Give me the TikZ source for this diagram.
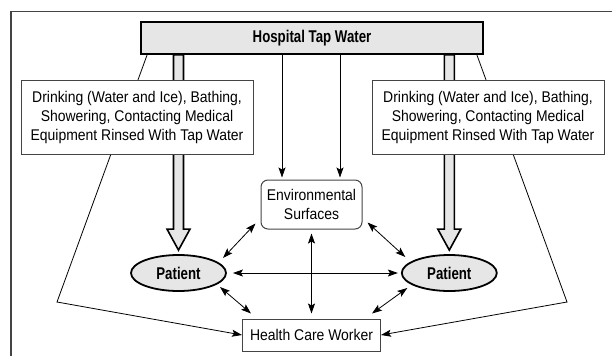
\documentclass[tikz,border=0pt]{standalone}
\usepackage{fontspec}
\setmainfont{Liberation Sans}[FakeStretch=0.9]
\newfontfamily\headfont{Liberation Sans}[FakeStretch=0.78]
\usepackage{xcolor}
\definecolor{boxFill}  {HTML}{E6E6E6}
\definecolor{lineGray} {HTML}{444444}
\usetikzlibrary{arrows.meta, positioning, calc, shapes.geometric, backgrounds}
\tikzset{
    frameline/.style={draw=lineGray, line width=1.2pt},
    sourcebox/.style={rectangle, draw, line width=1.8pt, fill=boxFill,
                      minimum width=342pt, minimum height=32pt, inner sep=0pt,
                      font=\headfont\bfseries\fontsize{17}{20}\selectfont},
    routebox/.style={rectangle, draw=lineGray, line width=1pt, fill=white,
                     minimum width=232pt, minimum height=74pt, inner sep=0pt,
                     align=center, font=\fontsize{15.5}{19}\selectfont},
    envbox/.style={rectangle, rounded corners=7pt, draw=lineGray, line width=1pt,
                   fill=white, minimum width=101pt, minimum height=49pt,
                   inner sep=0pt, align=center, font=\fontsize{15.5}{18.5}\selectfont},
    workerbox/.style={rectangle, draw=lineGray, line width=1pt, fill=white,
                      minimum width=138pt, minimum height=32pt, inner sep=0pt,
                      font=\fontsize{15.5}{19}\selectfont},
    patient/.style={ellipse, draw, line width=1.8pt, fill=boxFill,
                    minimum width=95pt, minimum height=36pt, inner sep=0pt,
                    font=\headfont\bfseries\fontsize{17}{20}\selectfont},
    edge/.style={-{Stealth[length=10pt, width=7pt, inset=2pt]}, line width=0.8pt},
    dedge/.style={{Stealth[length=10pt, width=7pt, inset=2pt]}-{Stealth[length=10pt, width=7pt, inset=2pt]},
                  line width=0.8pt},
    fatarrow/.style={draw, line width=1.6pt, fill=boxFill, line join=miter},
}
% hollow route arrow: #1 start on the source, #2 tip
\newcommand{\fatarrow}[2]{%
    \draw[fatarrow] let \p1=(#1), \p2=(#2) in
        (\x1-5pt,\y1) -- (\x1-5pt,\y2+21pt) -- (\x1-11.5pt,\y2+21pt) -- (\x2,\y2)
        -- (\x1+11.5pt,\y2+21pt) -- (\x1+5pt,\y2+21pt) -- (\x1+5pt,\y1) -- cycle;}

\begin{document}
\begin{tikzpicture}[x=1pt, y=-1pt]
    \useasboundingbox (0,0) rectangle (612,356);
    \draw[frameline] (11,356) |- (612,11.5);

    \node[sourcebox] (hosp) at (312,38) {Hospital Tap Water};
    \node[routebox] (drinkL) at (137,117)
        {Drinking (Water and Ice), Bathing,\\Showering, Contacting Medical\\Equipment Rinsed With Tap Water};
    \node[routebox, right=118pt of drinkL] (drinkR)
        {Drinking (Water and Ice), Bathing,\\Showering, Contacting Medical\\Equipment Rinsed With Tap Water};
    \node[envbox] (env) at (311.5,204.5) {Environmental\\Surfaces};
    \node[patient] (patL) at (178.5,273) {Patient};
    \node[patient, right=174pt of patL] (patR) {Patient};
    \node[workerbox, below=89pt of env] (hcw) {Health Care Worker};

    % Routes behind the route boxes
    \coordinate (tipL) at ($(patL.north)+(0,-4)$);
    \coordinate (tipR) at ($(patR.north)+(0,-4)$);
    \coordinate (bendL) at (57,302);
    \coordinate (bendR) at (567,302);
    \begin{scope}[on background layer]
        \fatarrow{hosp.south -| tipL}{tipL}
        \fatarrow{hosp.south -| tipR}{tipR}
        \draw[edge] ($(hosp.south west)+(7,0)$) -- (bendL) -- (hcw.west);
        \draw[edge] ($(hosp.south east)+(-7,0)$) -- (bendR) -- (hcw.east);
    \end{scope}

    % Tap water onto surfaces
    \coordinate (wl) at ($(env.north)+(-29.5,-2)$);
    \coordinate (wr) at ($(env.north)+(28.5,-2)$);
    \draw[edge] (hosp.south -| wl) -- (wl);
    \draw[edge] (hosp.south -| wr) -- (wr);

    % Two-way contacts
    \coordinate (eSW) at ($(env.south west)+(-5,-6)$);
    \coordinate (eSE) at ($(env.south east)+(5,-7)$);
    \coordinate (pLNE) at ($(patL.center)+(44.5,-15)$);
    \coordinate (pRNW) at ($(patR.center)+(-44,-16)$);
    \coordinate (pLSE) at ($(patL.center)+(41.5,14)$);
    \coordinate (pRSW) at ($(patR.center)+(-42,15)$);
    \coordinate (hNW) at ($(hcw.north west)+(9,-5)$);
    \coordinate (hNE) at ($(hcw.north east)+(-9,-5)$);
    \draw[dedge] (eSW) -- (pLNE);
    \draw[dedge] (eSE) -- (pRNW);
    \draw[dedge, shorten <=6pt, shorten >=3pt] (patL.east) -- (patR.west);
    \draw[dedge, shorten <=4pt, shorten >=5pt] (env.south) -- (hcw.north);
    \draw[dedge] (pLSE) -- (hNW);
    \draw[dedge] (pRSW) -- (hNE);
\end{tikzpicture}
\end{document}
